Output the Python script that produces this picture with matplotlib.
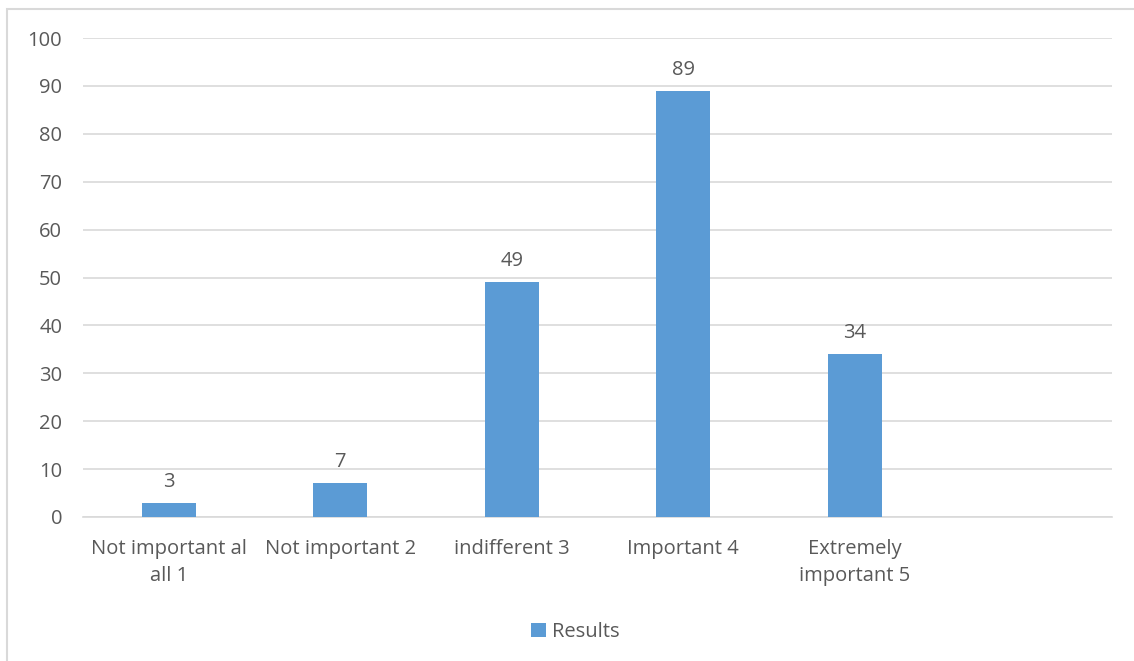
import matplotlib.pyplot as plt
from matplotlib.patches import Rectangle

# survey answers
categories = ["Not important al\nall 1", "Not important 2", "indifferent 3",
              "Important 4", "Extremely\nimportant 5", ""]
results = [3, 7, 49, 89, 34, None]
y_ticks = [0, 10, 20, 30, 40, 50, 60, 70, 80, 90, 100]

BAR_COLOR = "#5B9BD5"
TEXT_COLOR = "#595959"
GRID_COLOR = "#D9D9D9"

plt.rcParams['font.family'] = ['Open Sans', 'DejaVu Sans']

W, H = 1134, 661
fig = plt.figure(figsize=(W / 100, H / 100), dpi=100)

# outer chart frame (cut off at right and bottom)
fig.patches.append(Rectangle((7 / W, 0 - 0.01), 1.02, 1 - 9 / H + 0.01,
                             transform=fig.transFigure, fill=False,
                             edgecolor=GRID_COLOR, linewidth=1.5))

ax = fig.add_axes([83 / W, 1 - 517 / H, (1112 - 83) / W, (517 - 38) / H])

x = list(range(len(categories)))
vals = [v if v is not None else 0 for v in results]
bars = ax.bar(x[:5], vals[:5], width=0.315, color=BAR_COLOR, zorder=3, label="Results")
ax.set_xlim(-0.5, len(categories) - 0.5)
ax.set_ylim(0, 100)
ax.set_yticks(y_ticks)
ax.yaxis.grid(True, color=GRID_COLOR, linewidth=1.2)
ax.set_axisbelow(True)
for s in ["top", "right", "left"]:
    ax.spines[s].set_visible(False)
ax.spines["bottom"].set_color(GRID_COLOR)
ax.spines["bottom"].set_linewidth(1.2)
ax.tick_params(axis="both", length=0, labelsize=14.5, colors=TEXT_COLOR, pad=15)
ax.tick_params(axis="x", pad=16)
ax.set_xticks(x)
ax.set_xticklabels(categories, linespacing=1.45)

for b, v in zip(bars, results[:5]):
    ax.annotate(str(v), (b.get_x() + b.get_width() / 2, v), xytext=(0, 8),
                textcoords="offset points", ha="center", va="bottom",
                fontsize=14.5, color=TEXT_COLOR)

fig.legend(handles=[bars], labels=["Results"], loc="center",
           bbox_to_anchor=(575 / W, 1 - 632 / H), frameon=False,
           fontsize=14.5, labelcolor=TEXT_COLOR, handlelength=0.75,
           handleheight=0.75, handletextpad=0.3)

fig.savefig("out.png", dpi=100)
